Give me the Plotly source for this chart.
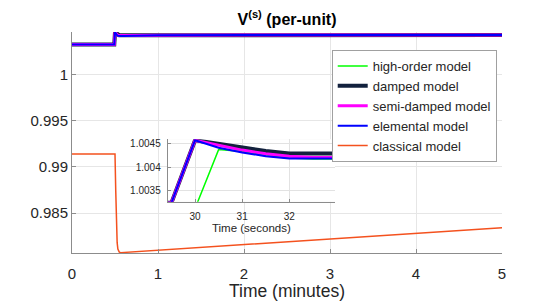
import plotly.graph_objects as go

# ---- data (time in seconds) ----
t_models = [0, 29.5, 30, 30.5, 31, 31.5, 32, 32.5, 33, 34, 36, 40, 50, 60, 120, 300]
v_elemental = [1.00325, 1.00325, 1.00458, 1.00442, 1.00432, 1.00424, 1.00419, 1.00417, 1.00416,
               1.00416, 1.00418, 1.00420, 1.00423, 1.00425, 1.00427, 1.00428]
v_semi = [1.00325, 1.00325, 1.00458, 1.00447, 1.00437, 1.00429, 1.00424, 1.00421, 1.00420,
          1.00420, 1.00421, 1.00423, 1.00425, 1.00426, 1.00427, 1.00428]
v_damped = [1.00325, 1.00325, 1.00458, 1.00450, 1.00442, 1.00435, 1.00430, 1.00427, 1.00425,
            1.00424, 1.00424, 1.00425, 1.00426, 1.00427, 1.00428, 1.00428]

t_high = [0, 30.05, 30.5, 31, 31.5, 32, 32.5, 33, 34, 36, 40, 50, 60, 120, 300]
v_high = [1.00325, 1.00325, 1.00438, 1.00434, 1.00425, 1.00420, 1.00418, 1.00416, 1.00416,
          1.00418, 1.00420, 1.00423, 1.00425, 1.00427, 1.00428]

t_classical = [0, 30, 30.5, 31, 31.5, 32, 33, 34, 300]
v_classical = [0.9914, 0.9914, 0.9875, 0.9838, 0.9818, 0.9811, 0.98078, 0.98072, 0.9834]

series = [
    ("high-order model", t_high, v_high, "#00ff00", 1.5),
    ("damped model", t_models, v_damped, "#12213d", 4),
    ("semi-damped model", t_models, v_semi, "#ff00ff", 3),
    ("elemental model", t_models, v_elemental, "#0000ff", 2),
    ("classical model", t_classical, v_classical, "#f4511e", 1.5),
]

main_xticks = [0, 1, 2, 3, 4, 5]
main_yticks = [0.985, 0.99, 0.995, 1]
main_yticktext = ["0.985", "0.99", "0.995", "1"]
inset_xticks = [30, 31, 32]
inset_yticks = [1.0035, 1.004, 1.0045]
inset_yticktext = ["1.0035", "1.004", "1.0045"]

FONT = "Liberation Sans, Arial, sans-serif"
AX = "#8c8c8c"
TXT = "#262626"

fig = go.Figure()
for name, t, v, col, w in series:
    fig.add_trace(go.Scatter(x=[s / 60 for s in t], y=v, mode="lines", name=name,
                             line=dict(color=col, width=w), xaxis="x", yaxis="y",
                             legendgroup=name))
for name, t, v, col, w in series:
    fig.add_trace(go.Scatter(x=t, y=v, mode="lines", name=name, showlegend=False,
                             line=dict(color=col, width=w), xaxis="x2", yaxis="y2",
                             legendgroup=name))

# page body has an 8px margin, so the figure is 548x293 placed at (8, 8)
fig.update_layout(
    width=548, height=293, autosize=False,
    margin=dict(l=64, r=54, t=24, b=48),
    paper_bgcolor="white", plot_bgcolor="white",
    font=dict(family=FONT, color=TXT),
    title=dict(text="<b>V<sup>(s)</sup> (per-unit)</b>", x=0.5, xref="paper",
               y=0.962, yref="container", xanchor="center", yanchor="middle",
               font=dict(size=16, color="#000000"), automargin=False),
    xaxis=dict(range=[0, 5], tickvals=main_xticks, showgrid=True, gridcolor="#e6e6e6",
               showline=True, linecolor=AX, ticks="inside", ticklen=4, tickcolor=AX,
               zeroline=False, tickfont=dict(size=15), ticklabelstandoff=7,
               automargin=False,
               title=dict(text="Time (minutes)", font=dict(size=17.5), standoff=4)),
    yaxis=dict(range=[0.98068, 1.0046], tickvals=main_yticks, ticktext=main_yticktext,
               showgrid=True, gridcolor="#e6e6e6", showline=True, linecolor=AX,
               ticks="inside", ticklen=4, tickcolor=AX, zeroline=False,
               tickfont=dict(size=15), automargin=False),
    xaxis2=dict(domain=[0.2226, 0.6116], anchor="y2", range=[29.42, 32.97],
                tickvals=inset_xticks, showgrid=True, gridcolor="#e2e2e2",
                showline=True, linecolor=AX, ticks="inside", ticklen=3, tickcolor=AX,
                zeroline=False, tickfont=dict(size=10), ticklabelstandoff=5,
                automargin=False,
                title=dict(text="Time (seconds)", font=dict(size=11.5), standoff=2)),
    yaxis2=dict(domain=[0.232, 0.5145], anchor="x2", range=[1.00327, 1.0046],
                tickvals=inset_yticks, ticktext=inset_yticktext, showgrid=True,
                gridcolor="#e2e2e2", showline=True, linecolor=AX, ticks="inside",
                ticklen=3, tickcolor=AX, zeroline=False, tickfont=dict(size=10),
                ticklabelstandoff=4, automargin=False),
    legend=dict(x=0.9877, xanchor="right", y=0.9186, yanchor="top",
                bgcolor="white", bordercolor="#a0a0a0", borderwidth=1,
                font=dict(size=13, color=TXT), tracegroupgap=0),
    shapes=[dict(type="rect", xref="x2 domain", yref="y2 domain", x0=0, x1=1, y0=0, y1=1,
                 fillcolor="#f0f0f0", line=dict(width=0), layer="below")],
)

fig.write_html("out.html")
